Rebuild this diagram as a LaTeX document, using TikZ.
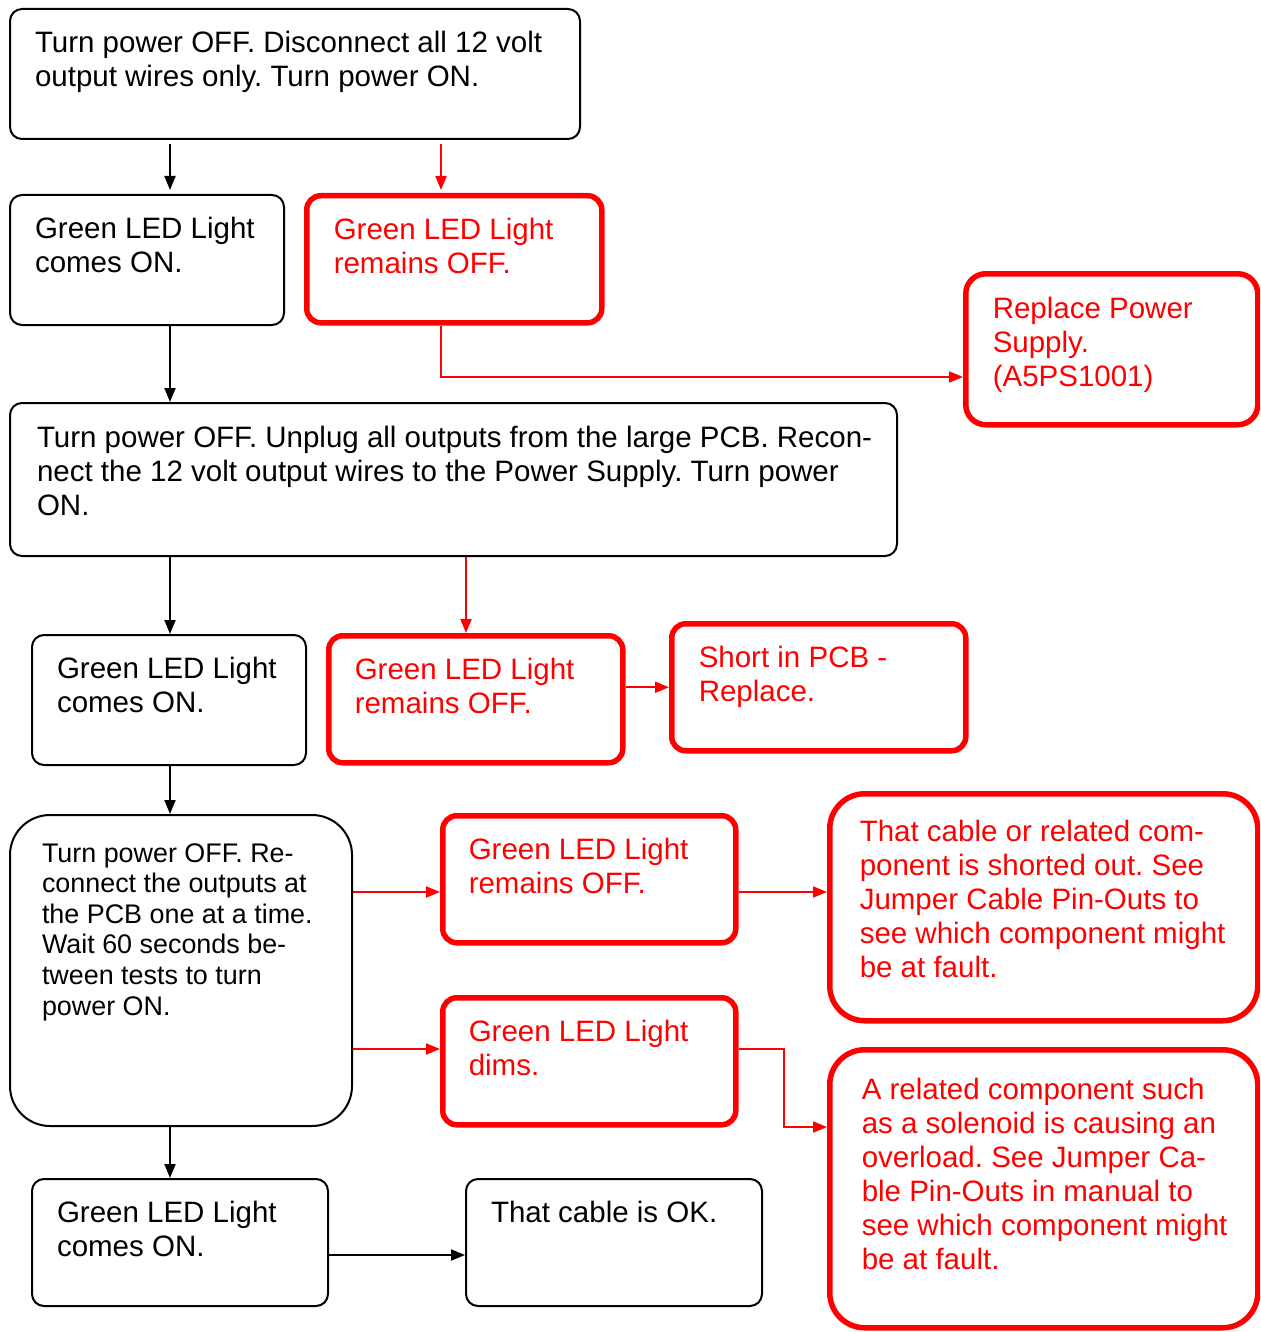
\documentclass[tikz,border=0pt]{standalone}
\usepackage{fontspec}
\setmainfont{Liberation Sans}
\usetikzlibrary{arrows.meta}
\definecolor{fcred}{RGB}{255,0,0}
\frenchspacing
% name, style, x, y, w, h, left pad, first baseline, text
\newcommand\flowbox[9]{%
  \node[#2, anchor=north west, inner sep=0pt] (#1) at (#3,#4)
   {\parbox[t][#6pt][t]{#5pt}{\leftskip=#7pt\relax\rightskip=0pt plus 1fil\relax
     \parindent=0pt\relax\parfillskip=0pt plus 1fil\relax\frenchspacing\rule{0pt}{#8pt}#9}};}
\begin{document}
\begin{tikzpicture}[x=1pt,y=-1pt,
  big/.style={font=\fontsize{29.5}{34}\selectfont},
  blk/.style={big, draw=black, line width=2pt, rounded corners=12pt, text=black},
  redb/.style={big, draw=fcred, line width=5.5pt, rounded corners=14pt, text=fcred},
  barr/.style={draw=black, line width=2pt, -{Triangle[length=14pt,width=11pt]}},
  rarr/.style={draw=fcred, line width=2pt, -{Triangle[length=14pt,width=11pt]}}]
\useasboundingbox (0,0) rectangle (1260,1332);
\clip (0,0) rectangle (1260,1332);

\flowbox{a}{blk}{9}{8}{570}{130}{25}{44}{Turn power OFF. Disconnect all 12 volt\\output wires only. Turn power ON.}
\flowbox{b}{blk}{9}{194}{274}{130}{25}{44}{Green LED Light\\comes ON.}
\flowbox{c}{redb}{304}{193}{295}{127}{27}{44}{Green LED Light\\remains OFF.}
\flowbox{d}{redb, rounded corners=20pt}{963}{271}{292}{151}{27}{45}{Replace Power\\Supply.\\(A5PS1001)}
\flowbox{e}{blk}{9}{402}{887}{153}{27}{44}{Turn power OFF. Unplug all outputs from the large PCB. Recon-\\nect the 12 volt output wires to the Power Supply. Turn power\\ON.}
\flowbox{f}{blk}{31}{634}{274}{130}{25}{43}{Green LED Light\\comes ON.}
\flowbox{g}{redb}{326}{633}{294}{127}{26}{44}{Green LED Light\\remains OFF.}
\flowbox{h}{redb}{669}{621}{294}{127}{27}{44}{Short in PCB -\\Replace.}
\flowbox{i}{blk, rounded corners=40pt, font=\fontsize{26.9}{30.6}\selectfont}{9}{814}{342}{311}{32}{47}{Turn power OFF. Re-\\connect the outputs at\\the PCB one at a time.\\Wait 60 seconds be-\\tween tests to turn\\power ON.}
\flowbox{j}{redb}{440}{813}{293}{127}{26}{44}{Green LED Light\\remains OFF.}
\flowbox{k}{redb, rounded corners=35pt}{827}{791}{428}{227}{30}{48}{That cable or related com-\\ponent is shorted out. See\\Jumper Cable Pin-Outs to\\see which component might\\be at fault.}
\flowbox{l}{redb}{440}{995}{293}{127}{26}{44}{Green LED Light\\dims.}
\flowbox{m}{redb, rounded corners=35pt}{827}{1047}{428}{278}{32}{50}{A related component such\\as a solenoid is causing an\\overload. See Jumper Ca-\\ble Pin-Outs in manual to\\see which component might\\be at fault.}
\flowbox{n}{blk}{31}{1178}{296}{127}{25}{43}{Green LED Light\\comes ON.}
\flowbox{o}{blk}{465}{1178}{296}{127}{25}{43}{That cable is OK.}

\coordinate (x170) at (170,0);
\coordinate (x441) at (441,0);
\coordinate (x466) at (466,0);
\coordinate (x784) at (784,0);
\coordinate (y377) at (0,377);
\coordinate (y892) at (0,892);
\coordinate (y1049) at (0,1049);
\coordinate (y1127) at (0,1127);
\coordinate (y1255) at (0,1255);

\draw[barr, shorten <=4pt, shorten >=4pt] (a.south -| x170) -- (b.north -| x170);
\draw[rarr, shorten <=4pt, shorten >=3pt] (a.south -| x441) -- (c.north -| x441);
\draw[rarr] (c.south -| x441) |- (d.west |- y377);
\draw[barr] (b.south -| x170) -- (e.north -| x170);
\draw[barr] (e.south -| x170) -- (f.north -| x170);
\draw[rarr] (e.south -| x466) -- (g.north -| x466);
\draw[rarr] (g.east |- h.west) -- (h.west);
\draw[barr] (f.south -| x170) -- (i.north -| x170);
\draw[rarr] (i.east |- y892) -- (j.west |- y892);
\draw[rarr] (j.east |- y892) -- (k.west |- y892);
\draw[rarr] (i.east |- y1049) -- (l.west |- y1049);
\draw[rarr] (l.east |- y1049) -- (x784 |- y1049) -- (x784 |- y1127) -- (m.west |- y1127);
\draw[barr] (i.south -| x170) -- (n.north -| x170);
\draw[barr] (n.east |- y1255) -- (o.west |- y1255);
\end{tikzpicture}
\end{document}
